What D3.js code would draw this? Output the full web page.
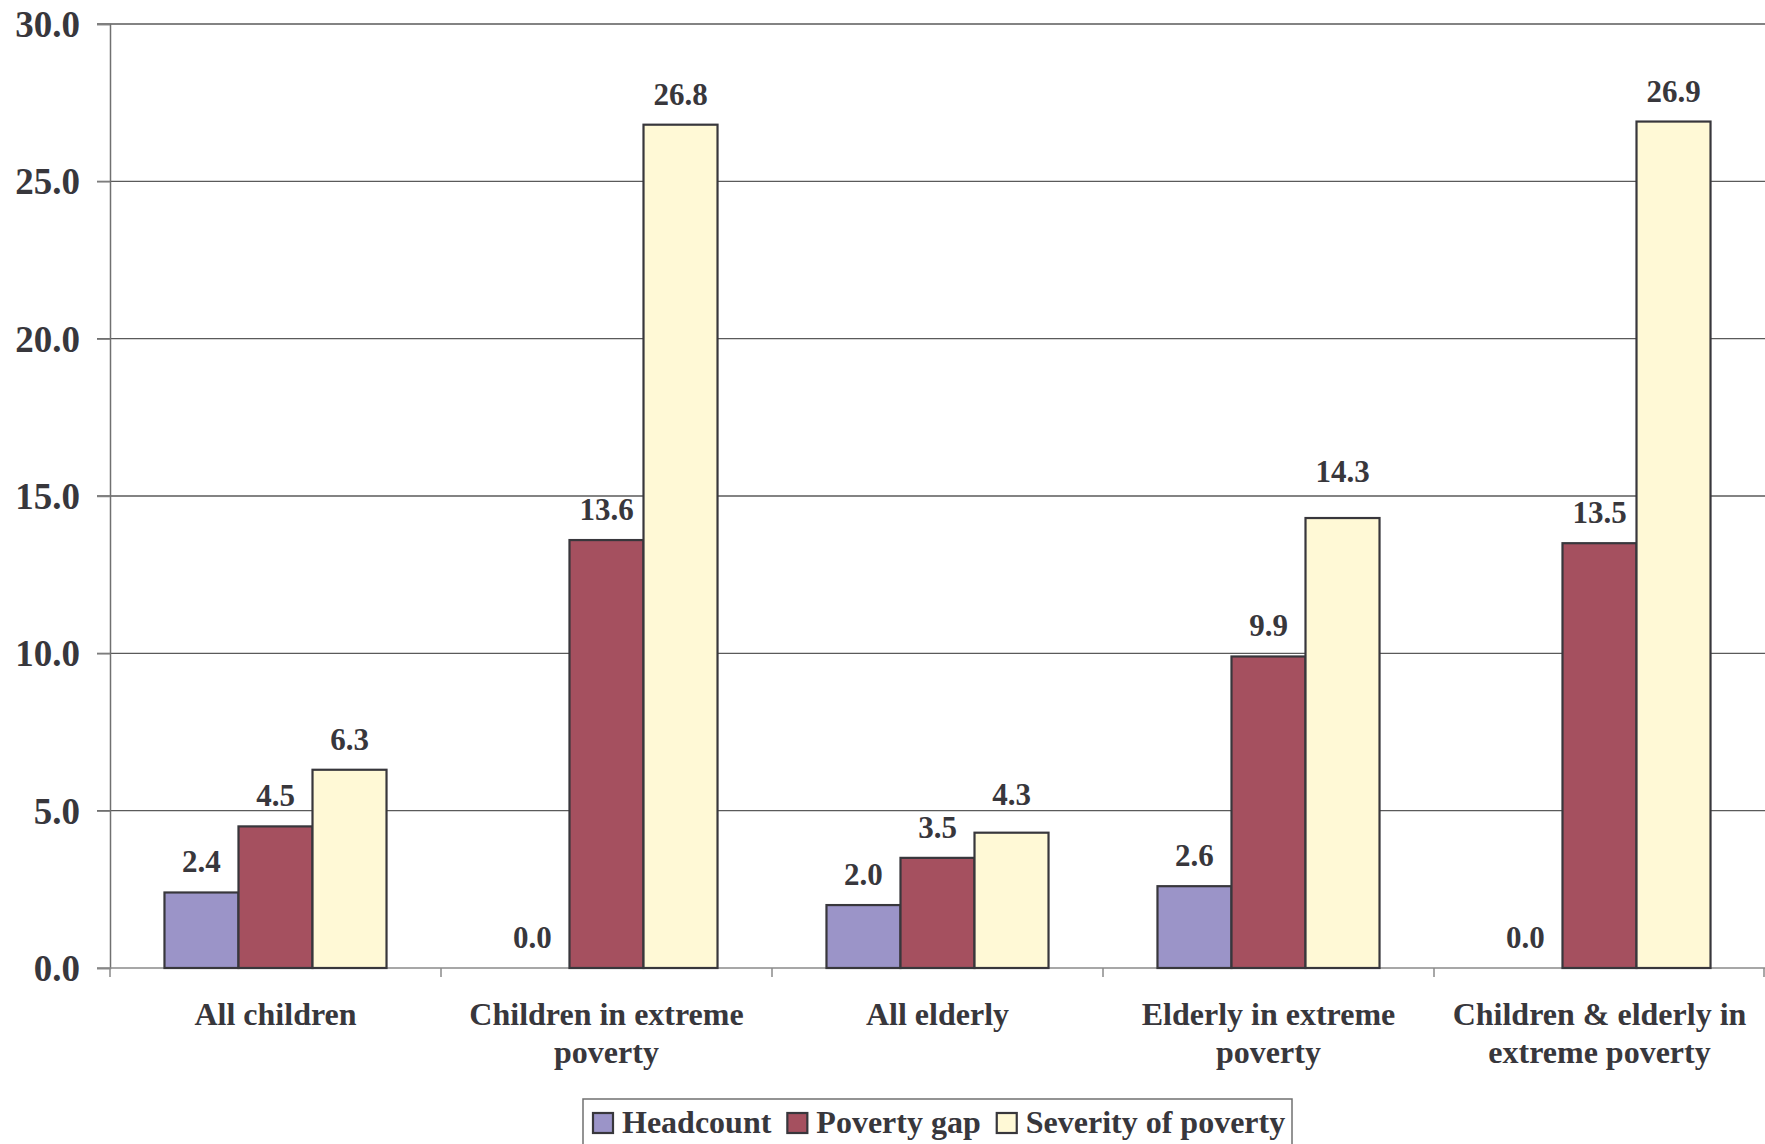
<!DOCTYPE html>
<html>
<head>
<meta charset="utf-8">
<script src="https://cdn.jsdelivr.net/npm/d3@7"></script>
<style>
  html, body { margin: 0; padding: 0; background: #ffffff; }
  svg { display: block; }
  text { font-family: "Liberation Serif", "Times New Roman", serif; font-weight: bold; fill: #38373c; }
</style>
</head>
<body>
<svg id="chart" width="1765" height="1144"></svg>
<script>
// Poverty measures by population group
const categories = [
  ["All children"],
  ["Children in extreme", "poverty"],
  ["All elderly"],
  ["Elderly in extreme", "poverty"],
  ["Children & elderly in", "extreme poverty"]
];
const seriesNames = ["Headcount", "Poverty gap", "Severity of poverty"];
const headcount   = [2.4, 0.0, 2.0, 2.6, 0.0];
const povertyGap  = [4.5, 13.6, 3.5, 9.9, 13.5];
const severity    = [6.3, 26.8, 4.3, 14.3, 26.9];
const yTicks = [0, 5, 10, 15, 20, 25, 30];

const seriesValues = [headcount, povertyGap, severity];
const colors = ["#9b94c8", "#a5505f", "#fff9d6"];
// a couple of severity labels sit a little higher to clear the gridlines
const severityLabelLift = [0, 0, 8, 16, 0];

const svg = d3.select("#chart");
const plotLeft = 110, plotRight = 1765, plotTop = 24, plotBottom = 968;

const catKeys = categories.map(c => c.join(" "));
const x0 = d3.scaleBand().domain(catKeys).range([plotLeft, plotRight]).paddingInner(0).paddingOuter(0);
const x1 = d3.scaleBand().domain(seriesNames).range([0, x0.bandwidth()]).paddingInner(0).paddingOuter(0.736);
const y = d3.scaleLinear().domain([0, 30]).range([plotBottom, plotTop]);
const color = d3.scaleOrdinal().domain(seriesNames).range(colors);

// horizontal gridlines
svg.append("g")
  .selectAll("line")
  .data(yTicks.filter(t => t > 0))
  .join("line")
  .attr("x1", 97).attr("x2", plotRight)
  .attr("y1", d => y(d)).attr("y2", d => y(d))
  .attr("stroke", "#5a5a5a").attr("stroke-width", 1.3);

// y axis
const yAxis = svg.append("g")
  .attr("transform", `translate(${plotLeft},0)`)
  .call(d3.axisLeft(y).tickValues(yTicks).tickSize(13).tickFormat(d3.format(".1f")).tickPadding(17));
yAxis.select(".domain").attr("stroke", "#707070").attr("stroke-width", 1.5);
yAxis.selectAll(".tick line").attr("stroke", "#808080").attr("stroke-width", 1.5);
yAxis.selectAll(".tick text")
  .attr("font-size", 37).attr("font-family", "Liberation Serif").attr("font-weight", "bold")
  .attr("fill", "#38373c").attr("dy", "0.34em");

// x axis baseline and category separators
svg.append("line")
  .attr("x1", 97).attr("x2", plotRight).attr("y1", plotBottom).attr("y2", plotBottom)
  .attr("stroke", "#8a8a8a").attr("stroke-width", 1.5);
const sepX = catKeys.map(k => x0(k)).concat([plotRight - 1]);
svg.append("g").selectAll("line").data(sepX).join("line")
  .attr("x1", d => d).attr("x2", d => d)
  .attr("y1", plotBottom).attr("y2", plotBottom + 9)
  .attr("stroke", "#8a8a8a").attr("stroke-width", 1.5);

// bars
const groups = svg.append("g").selectAll("g")
  .data(catKeys)
  .join("g")
  .attr("transform", d => `translate(${x0(d)},0)`);

const cells = (d, i) => seriesNames.map((s, j) => ({
  s, v: seriesValues[j][i], lift: j === 2 ? severityLabelLift[i] : 0
}));

groups.selectAll("rect")
  .data((d, i) => cells(d, i).filter(c => c.v > 0))
  .join("rect")
  .attr("x", d => x1(d.s))
  .attr("y", d => y(d.v))
  .attr("width", x1.bandwidth())
  .attr("height", d => y(0) - y(d.v))
  .attr("fill", d => color(d.s))
  .attr("stroke", "#38373c")
  .attr("stroke-width", 2.2);

// value labels
groups.selectAll("text.val")
  .data(cells)
  .join("text")
  .attr("class", "val")
  .attr("x", d => x1(d.s) + x1.bandwidth() / 2)
  .attr("y", d => y(d.v) - 20 - d.lift)
  .attr("text-anchor", "middle")
  .attr("font-size", 31)
  .text(d => d3.format(".1f")(d.v));

// category labels
svg.append("g").selectAll("text")
  .data(categories)
  .join("text")
  .attr("x", (d, i) => x0(catKeys[i]) + x0.bandwidth() / 2)
  .attr("y", 1025)
  .attr("text-anchor", "middle")
  .attr("font-size", 32)
  .selectAll("tspan")
  .data(d => d)
  .join("tspan")
  .attr("x", function () { return this.parentNode.getAttribute("x"); })
  .attr("dy", (d, i) => i === 0 ? 0 : 38)
  .text(d => d);

// legend
const legend = svg.append("g");
legend.append("rect")
  .attr("x", 583).attr("y", 1099).attr("width", 709).attr("height", 60)
  .attr("fill", "#ffffff").attr("stroke", "#707070").attr("stroke-width", 1.5);
let lx = 593;
seriesNames.forEach((s, i) => {
  legend.append("rect")
    .attr("x", lx).attr("y", 1113).attr("width", 20).attr("height", 20)
    .attr("fill", color(s)).attr("stroke", "#38373c").attr("stroke-width", 2.2);
  const t = legend.append("text")
    .attr("x", lx + 29).attr("y", 1133)
    .attr("font-size", 32)
    .text(s);
  lx += 29 + t.node().getComputedTextLength() + 16;
});
</script>
</body>
</html>
